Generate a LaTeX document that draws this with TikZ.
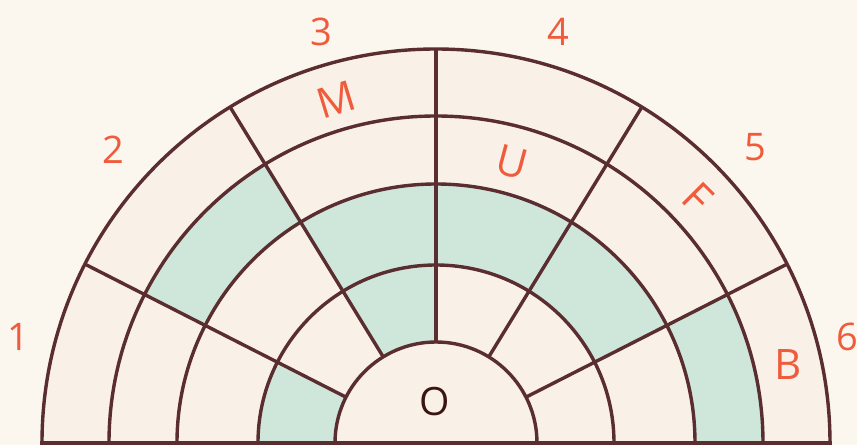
\documentclass[tikz,border=0pt]{standalone}
\usepackage{fontspec}
\setmainfont{Open Sans}
\definecolor{ink}{HTML}{5A2D30}
\definecolor{mint}{HTML}{CFE7DA}
\definecolor{paper}{HTML}{FBF6EE}
\definecolor{cellbg}{HTML}{F9F1E7}
\definecolor{tag}{HTML}{EF5B3B}
\definecolor{dark}{HTML}{3A1512}
\tikzset{
 grid line/.style={ink,line width=3.4},
 num/.style={tag,font=\fontsize{38}{40}\selectfont},
 letter/.style={tag,font=\fontsize{42}{44}\selectfont},
}
\begin{document}
\begin{tikzpicture}[x=1pt,y=1pt]
\fill[paper] (-436,-2) rectangle (421,443);
\useasboundingbox (-436,-2) rectangle (421,443);
\fill[cellbg] (394,0) arc[start angle=0,end angle=180,radius=394] -- cycle;
% shaded cells: start/end angle, inner/outer radius
\foreach \a/\b/\ri/\ro in {153/180/101/178,90/121.5/101/178,58.5/121.5/178/259,27/58.5/178/259,121.5/153/259/327,0/27/259/327}{
 \fill[mint] (\a:\ri) arc[start angle=\a,end angle=\b,radius=\ri] -- (\b:\ro) arc[start angle=\b,end angle=\a,radius=\ro] -- cycle;
}
\foreach \r in {101,178,259,327,394}{\draw[grid line] (\r,0) arc[start angle=0,end angle=180,radius=\r];}
\foreach \a in {27,58.5,90,121.5,153}{\draw[grid line] (\a:101) -- (\a:394);}
\draw[grid line] (-396,0) -- (396,0);
\foreach \n/\x/\y in {1/-418/106,2/-323/293,3/-115/411,4/122/411,5/319/296,6/411/106}{
 \node[num] (n\n) at (\x,\y) {\n};
}
\node[letter,rotate=17] (m) at (-100,343) {M};
\node[letter,rotate=-15] (u) at (76,281) {U};
\node[letter,rotate=-45] (f) at (262,245) {F};
\node[letter] (b) at (352,78) {B};
\node[dark,font=\fontsize{39}{41}\selectfont] (o) at (-1,41) {O};
\end{tikzpicture}
\end{document}
